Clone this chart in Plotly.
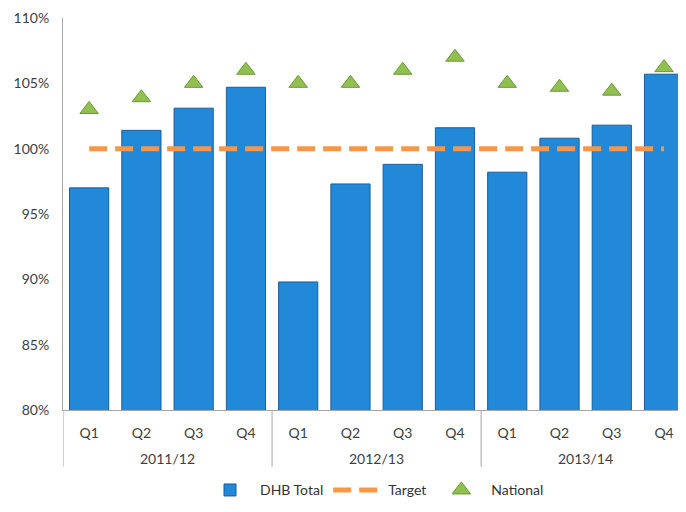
import plotly.graph_objects as go

years = ["2011/12", "2012/13", "2013/14"]
quarters = ["Q1", "Q2", "Q3", "Q4"]
dhb_total = [97.0, 101.4, 103.1, 104.7, 89.8, 97.3, 98.8, 101.6, 98.2, 100.8, 101.8, 105.7]
national = [103.0, 103.9, 105.0, 106.0, 105.0, 105.0, 106.0, 107.0, 105.0, 104.7, 104.4, 106.2]
target = [100] * 12
y_ticks = [80, 85, 90, 95, 100, 105, 110]

categories = [f"{y} {q}" for y in years for q in quarters]
q_labels = [q for _ in years for q in quarters]

FONT = "Lato, Liberation Sans, sans-serif"
AXIS = "#A6A6A6"

fig = go.Figure()
fig.add_trace(go.Bar(
    x=categories, y=dhb_total, name="DHB Total",
    marker=dict(color="#2189D8", line=dict(color="#1A5E9E", width=1)),
    width=0.75,
))
fig.add_trace(go.Scatter(
    x=categories, y=target, name="Target", mode="lines",
    line=dict(color="#F79646", width=5, dash="18px,8px"),
))
fig.add_trace(go.Scatter(
    x=categories, y=national, name="National", mode="markers",
    marker=dict(symbol="triangle-up", size=16, color="#92C050",
                line=dict(color="#6A9A34", width=1)),
))

n_q = len(quarters)
# group dividers below the axis
for i in range(len(years) + 1):
    xpos = i * n_q - 0.5
    fig.add_shape(type="line", xref="x", yref="paper", x0=xpos, x1=xpos,
                  y0=0, y1=-0.145, line=dict(color=AXIS, width=1))
# group (year) labels
for i, yr in enumerate(years):
    fig.add_annotation(x=i * n_q + (n_q - 1) / 2, xref="x", y=-0.123, yref="paper",
                       text=yr, showarrow=False, yanchor="middle",
                       font=dict(family=FONT, size=14, color="#404040"))

fig.update_layout(
    width=678, height=504,
    margin=dict(l=55, r=0, t=10, b=102, autoexpand=False),
    paper_bgcolor="white", plot_bgcolor="white",
    font=dict(family=FONT, size=14, color="#404040"),
    showlegend=True,
    legend=dict(orientation="h", x=0.5, xanchor="center", y=-0.205, yanchor="middle",
                font=dict(size=14, color="#333333"), itemwidth=50),
)
fig.update_yaxes(
    range=[80, 110], tickvals=y_ticks, ticktext=[f"{v}%" for v in y_ticks],
    showgrid=False, zeroline=False, showline=True, linecolor=AXIS, linewidth=1,
    ticks="", ticklabelstandoff=10, automargin=False,
)
fig.update_xaxes(
    type="category", range=[-0.5, 11.42],
    tickvals=categories, ticktext=q_labels,
    showgrid=False, showline=True, linecolor=AXIS, linewidth=1,
    ticks="", ticklabelstandoff=10, automargin=False,
)

fig.write_html("out.html")
